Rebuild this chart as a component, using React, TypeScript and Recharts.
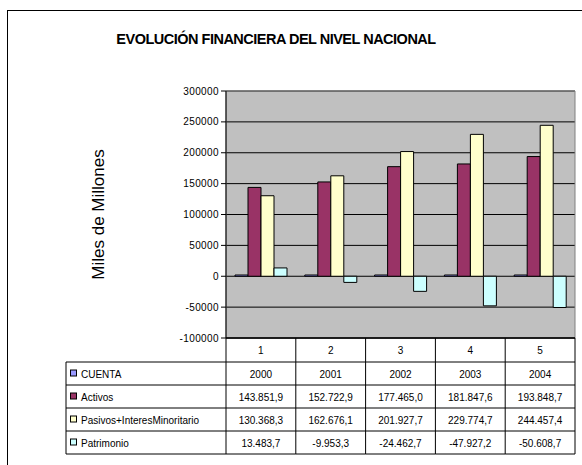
import React from "react";
import { Bar, BarChart, CartesianGrid, ReferenceArea, XAxis, YAxis } from "recharts";

const categories = ["1", "2", "3", "4", "5"];
const cuenta = [2000, 2001, 2002, 2003, 2004];
const activos = [143851.9, 152722.9, 177465.0, 181847.6, 193848.7];
const pasivos = [130368.3, 162676.1, 201927.7, 229774.7, 244457.4];
const patrimonio = [13483.7, -9953.3, -24462.7, -47927.2, -50608.7];
const yTicks = [-100000, -50000, 0, 50000, 100000, 150000, 200000, 250000, 300000];

const series = [
  { key: "cuenta", name: "CUENTA", color: "#9999FF", values: cuenta, raw: true },
  { key: "activos", name: "Activos", color: "#993366", values: activos, raw: false },
  { key: "pasivos", name: "Pasivos+InteresMinoritario", color: "#FFFFCC", values: pasivos, raw: false },
  { key: "patrimonio", name: "Patrimonio", color: "#CCFFFF", values: patrimonio, raw: false },
];

const chartData = categories.map((c, i) => ({
  name: c,
  cuenta: cuenta[i],
  activos: activos[i],
  pasivos: pasivos[i],
  patrimonio: patrimonio[i],
}));

const FONT = "'Liberation Sans', Arial, sans-serif";
const TABLE_LEFT = 66;
// row boundaries below the plot bottom
const ROW_LINES = [24, 47, 70, 93, 116];

// spanish style number: 143.851,9
const fmt = (v: number) => {
  const neg = v < 0;
  const [int, dec] = Math.abs(v).toFixed(1).split(".");
  const grouped = int.replace(/\B(?=(\d{3})+(?!\d))/g, ".");
  return `${neg ? "-" : ""}${grouped},${dec}`;
};

const TableTick = (props: any) => {
  const { x, y, payload, index } = props;
  const half = payload?.offset || 35;
  const left = x - half;
  const right = x + half;
  const top = y;
  const bottom = top + ROW_LINES[ROW_LINES.length - 1];
  return (
    <g fontFamily={FONT} fontSize={10} fill="#000">
      <line x1={right} y1={top} x2={right} y2={bottom} stroke="#000" />
      {index === 0 && <line x1={left} y1={top} x2={left} y2={bottom} stroke="#000" />}
      <text x={x} y={top + 16} textAnchor="middle" fill="#000">{payload.value}</text>
      {ROW_LINES.map((r) => (
        <line key={r} x1={index === 0 ? TABLE_LEFT : left} y1={top + r} x2={right} y2={top + r} stroke="#000" />
      ))}
      {index === 0 && <line x1={TABLE_LEFT} y1={top + ROW_LINES[0]} x2={TABLE_LEFT} y2={bottom} stroke="#000" />}
      {series.map((s, i) => {
        const ty = top + ROW_LINES[i] + 15.5;
        const v = s.values[index];
        return (
          <g key={s.key}>
            <text x={x} y={ty} textAnchor="middle" fill="#000">{s.raw ? String(v) : fmt(v)}</text>
            {index === 0 && (
              <>
                <rect x={70.5} y={ty - 7.5} width={6} height={6} fill={s.color} stroke="#000" />
                <text x={81} y={ty} fill="#000">{s.name}</text>
              </>
            )}
          </g>
        );
      })}
    </g>
  );
};

const YLabel = (props: any) => {
  const vb = props.viewBox || { x: 166, y: 91, height: 247 };
  const cx = vb.x - 62;
  const cy = vb.y + vb.height / 2;
  return (
    <text
      x={cx}
      y={cy}
      transform={`rotate(-90 ${cx} ${cy})`}
      textAnchor="middle"
      fontFamily={FONT}
      fontSize={17}
      fill="#000"
    >
      Miles de Millones
    </text>
  );
};

const App = () => {
  return (
    <div style={{ position: "absolute", left: 0, top: 0, width: 582, height: 465, overflow: "hidden", background: "#fff" }}>
      <div style={{ position: "absolute", left: 7, top: 10, width: 620, height: 520, border: "1px solid #000" }} />
      <div
        style={{
          position: "absolute",
          left: 0,
          top: 32,
          width: 552,
          textAlign: "center",
          fontFamily: FONT,
          fontWeight: "bold",
          fontSize: 14.5,
          letterSpacing: -0.5,
          lineHeight: "14px",
          color: "#000",
        }}
      >
        EVOLUCIÓN FINANCIERA DEL NIVEL NACIONAL
      </div>
      <div style={{ position: "absolute", left: 0, top: 0 }}>
        <BarChart
          width={582}
          height={465}
          data={chartData}
          margin={{ top: 91, right: 7, left: 166, bottom: 0 }}
          barGap={0}
          barSize={13}
        >
          <CartesianGrid vertical={false} fill="#C0C0C0" fillOpacity={1} stroke="#000" />
          <ReferenceArea y1={-100000} y2={300000} fill="none" stroke="#808080" ifOverflow="visible" />
          <XAxis
            dataKey="name"
            height={127}
            tickLine={false}
            tickSize={0}
            tickMargin={0}
            axisLine={{ stroke: "#000", strokeWidth: 1.5 }}
            tick={<TableTick />}
            interval={0}
          />
          <YAxis
            width={60}
            domain={[-100000, 300000]}
            ticks={yTicks}
            tickSize={5}
            tickMargin={2}
            axisLine={{ stroke: "#000" }}
            tickLine={{ stroke: "#000" }}
            tick={{ fill: "#000", fontSize: 10, fontFamily: FONT, letterSpacing: 0.4 }}
            label={<YLabel />}
          />
          {series.map((s) => (
            <Bar key={s.key} dataKey={s.key} name={s.name} fill={s.color} stroke="#000" strokeWidth={1} isAnimationActive={false} />
          ))}
        </BarChart>
      </div>
    </div>
  );
};

export default App;
